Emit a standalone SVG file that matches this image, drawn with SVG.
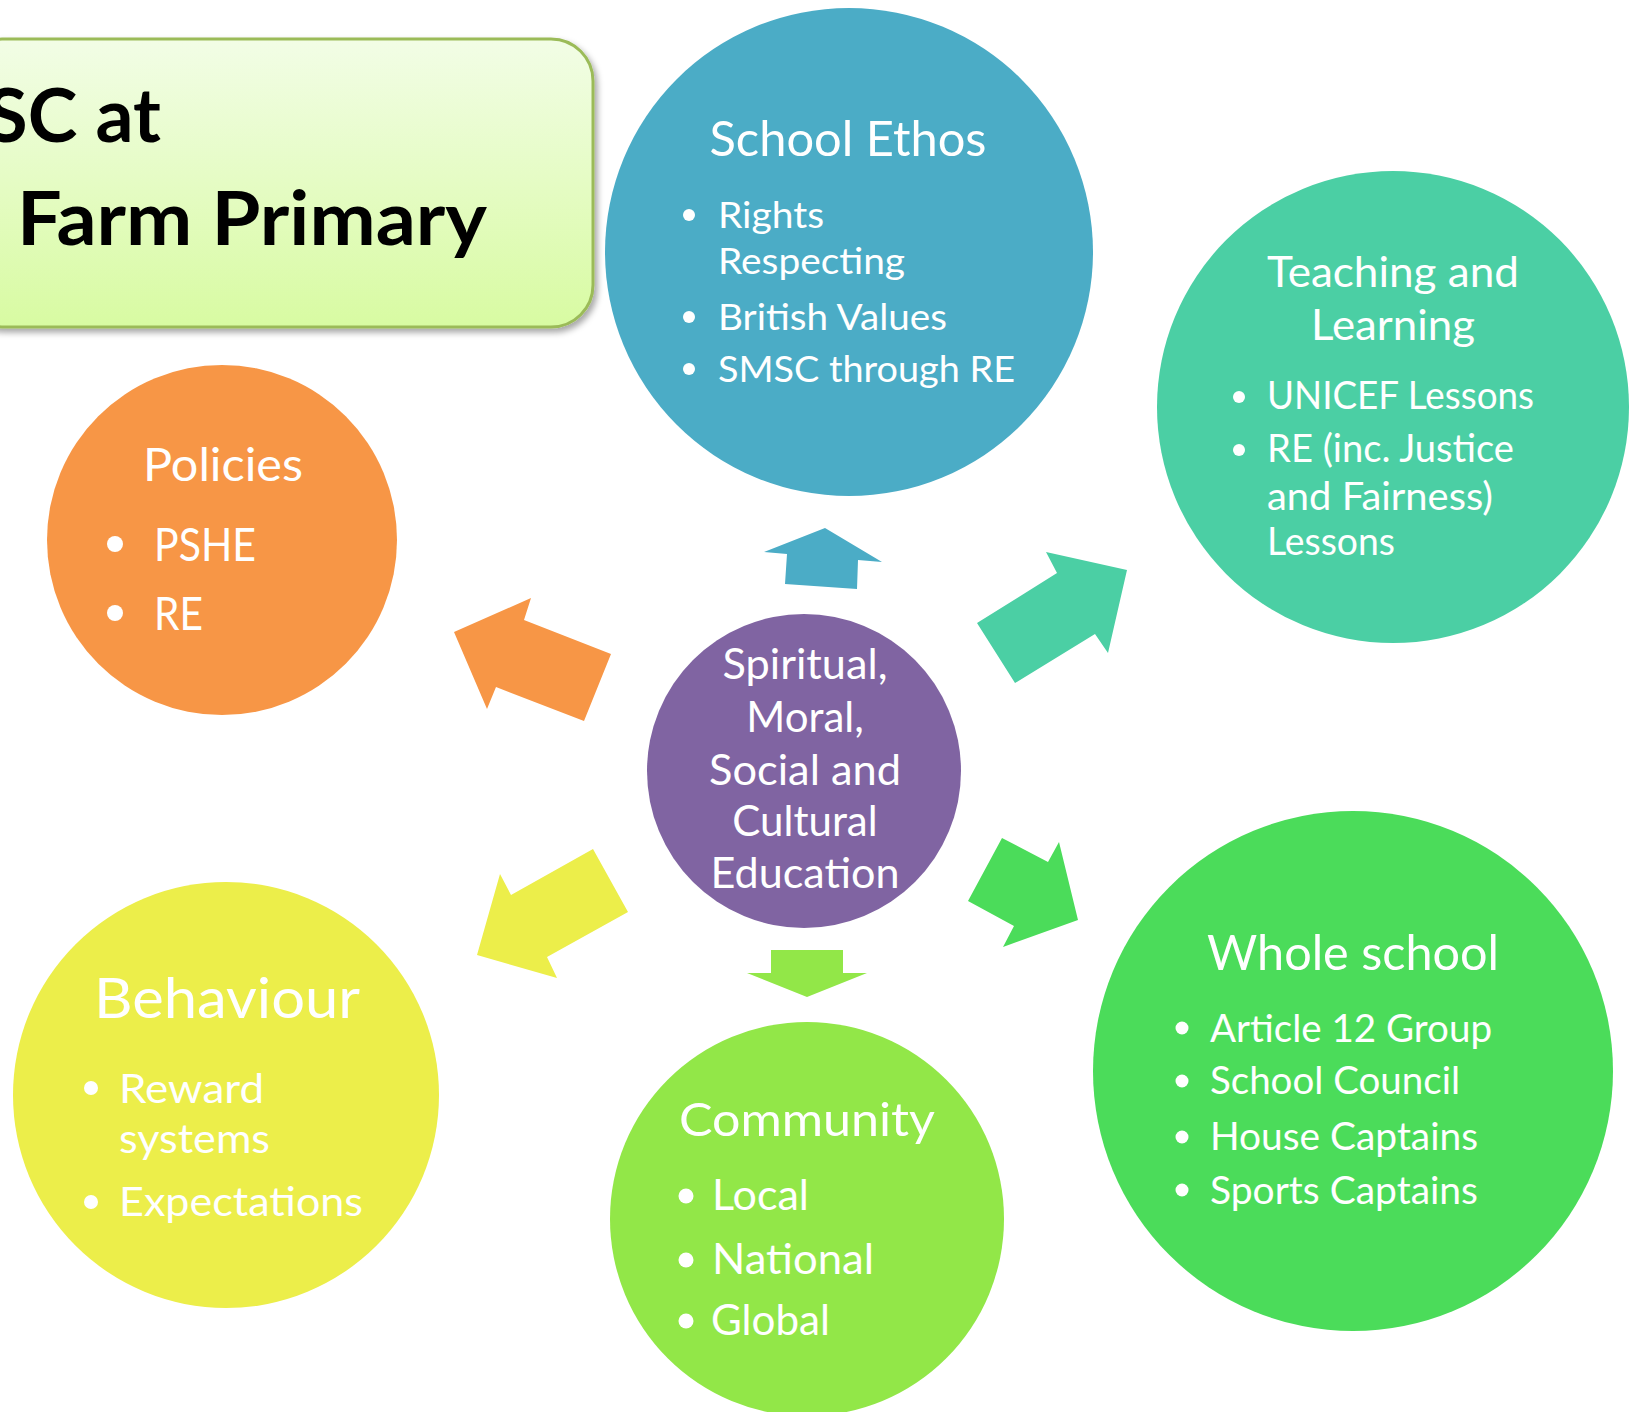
<svg xmlns="http://www.w3.org/2000/svg" width="1637" height="1412" viewBox="0 0 1637 1412">
<defs>
<style>
.t{font-family:Lato,"Open Sans","Liberation Sans",sans-serif;fill:#ffffff}
.c{text-anchor:middle}
.h{font-family:Lato,"Open Sans","Liberation Sans",sans-serif;font-weight:bold;fill:#000000}
.dot{fill:#ffffff}
</style>
<linearGradient id="tg" x1="0" y1="0" x2="0" y2="1">
<stop offset="0" stop-color="#f2fde6"/>
<stop offset="1" stop-color="#d8fba2"/>
</linearGradient>
<filter id="sh" x="-10%" y="-10%" width="120%" height="130%">
<feDropShadow dx="3" dy="4" stdDeviation="3" flood-color="#000000" flood-opacity="0.35"/>
</filter>
</defs>
<rect width="1637" height="1412" fill="#ffffff"/>

<g id="title">
<rect x="-40" y="39" width="633" height="288" rx="42" ry="42" fill="url(#tg)" stroke="#9bbb59" stroke-width="3" filter="url(#sh)"/>
<text class="h" x="161" y="142" font-size="75" text-anchor="end">SC at</text>
<text class="h" x="17" y="245" font-size="75" textLength="470" lengthAdjust="spacingAndGlyphs">Farm Primary</text>
</g>

<g id="connectors">
<polygon points="825,528 764,552 787,554 785,584 857,589 858,560 882,562" fill="#4bacc6"/>
<polygon points="1127,570 1046,552 1057,573 977,623 1015,683 1095,634 1108,653" fill="#4bcfa4"/>
<polygon points="454,632 531,598 524,620 611,654 584,721 496,687 487,709" fill="#f79646"/>
<polygon points="593,849 628,912 547,957 557,978 477,955 500,874 511,895" fill="#ecee4a"/>
<polygon points="1002,838 1048,862 1059,842 1078,920 1003,947 1014,926 968,901" fill="#4bdc5a"/>
<polygon points="771,950 843,950 843,973 867,973 807,997 747,973 771,973" fill="#92e748"/>
</g>

<g id="node-school-ethos">
<circle cx="849" cy="252" r="244" fill="#4bacc6"/>
<text class="t c" x="848" y="156" font-size="49" textLength="277" lengthAdjust="spacingAndGlyphs">School Ethos</text>
<circle class="dot" cx="689" cy="215" r="6"/>
<text class="t" x="718" y="228" font-size="37" textLength="106" lengthAdjust="spacingAndGlyphs">Rights</text>
<text class="t" x="718" y="274" font-size="37" textLength="187" lengthAdjust="spacingAndGlyphs">Respecting</text>
<circle class="dot" cx="689" cy="317" r="6"/>
<text class="t" x="718" y="330" font-size="37" textLength="229" lengthAdjust="spacingAndGlyphs">British Values</text>
<circle class="dot" cx="689" cy="369" r="6"/>
<text class="t" x="718" y="382" font-size="37" textLength="297" lengthAdjust="spacingAndGlyphs">SMSC through RE</text>
</g>

<g id="node-teaching">
<circle cx="1393" cy="407" r="236" fill="#4bcfa4"/>
<text class="t c" x="1393" y="287" font-size="42" textLength="252" lengthAdjust="spacingAndGlyphs">Teaching and</text>
<text class="t c" x="1393" y="340" font-size="42" textLength="164" lengthAdjust="spacingAndGlyphs">Learning</text>
<circle class="dot" cx="1239" cy="397" r="6"/>
<text class="t" x="1267" y="409" font-size="38" textLength="267" lengthAdjust="spacingAndGlyphs">UNICEF Lessons</text>
<circle class="dot" cx="1239" cy="450" r="6"/>
<text class="t" x="1267" y="462" font-size="38" textLength="247" lengthAdjust="spacingAndGlyphs">RE (inc. Justice</text>
<text class="t" x="1267" y="510" font-size="38" textLength="226" lengthAdjust="spacingAndGlyphs">and Fairness)</text>
<text class="t" x="1267" y="555" font-size="38" textLength="128" lengthAdjust="spacingAndGlyphs">Lessons</text>
</g>

<g id="node-policies">
<circle cx="222" cy="540" r="175" fill="#f79646"/>
<text class="t c" x="223" y="481" font-size="47" textLength="160" lengthAdjust="spacingAndGlyphs">Policies</text>
<circle class="dot" cx="115" cy="544" r="8"/>
<text class="t" x="154" y="561" font-size="46" textLength="102" lengthAdjust="spacingAndGlyphs">PSHE</text>
<circle class="dot" cx="115" cy="613" r="8"/>
<text class="t" x="154" y="630" font-size="46" textLength="49" lengthAdjust="spacingAndGlyphs">RE</text>
</g>

<g id="node-center">
<circle cx="804" cy="771" r="157" fill="#8064a2"/>
<text class="t c" x="805" y="679" font-size="42" textLength="165" lengthAdjust="spacingAndGlyphs">Spiritual,</text>
<text class="t c" x="805" y="732" font-size="42">Moral,</text>
<text class="t c" x="805" y="785" font-size="42" textLength="192" lengthAdjust="spacingAndGlyphs">Social and</text>
<text class="t c" x="805" y="836" font-size="42">Cultural</text>
<text class="t c" x="805" y="888" font-size="42" textLength="189" lengthAdjust="spacingAndGlyphs">Education</text>
</g>

<g id="node-behaviour">
<circle cx="226" cy="1095" r="213" fill="#ecee4a"/>
<text class="t c" x="227" y="1018" font-size="56" textLength="266" lengthAdjust="spacingAndGlyphs">Behaviour</text>
<circle class="dot" cx="91" cy="1088" r="7"/>
<text class="t" x="119" y="1103" font-size="41" textLength="145" lengthAdjust="spacingAndGlyphs">Reward</text>
<text class="t" x="119" y="1153" font-size="41" textLength="151" lengthAdjust="spacingAndGlyphs">systems</text>
<circle class="dot" cx="91" cy="1202" r="7"/>
<text class="t" x="119" y="1216" font-size="41" textLength="244" lengthAdjust="spacingAndGlyphs">Expectations</text>
</g>

<g id="node-community">
<circle cx="807" cy="1219" r="197" fill="#92e748"/>
<text class="t c" x="807" y="1136" font-size="47" textLength="256" lengthAdjust="spacingAndGlyphs">Community</text>
<circle class="dot" cx="686" cy="1196" r="7.5"/>
<text class="t" x="712" y="1210" font-size="43" textLength="97" lengthAdjust="spacingAndGlyphs">Local</text>
<circle class="dot" cx="686" cy="1260" r="7.5"/>
<text class="t" x="712" y="1274" font-size="43" textLength="162" lengthAdjust="spacingAndGlyphs">National</text>
<circle class="dot" cx="686" cy="1321" r="7.5"/>
<text class="t" x="711" y="1335" font-size="43" textLength="119" lengthAdjust="spacingAndGlyphs">Global</text>
</g>

<g id="node-whole-school">
<circle cx="1353" cy="1071" r="260" fill="#4bdc5a"/>
<text class="t c" x="1353" y="970" font-size="49" textLength="292" lengthAdjust="spacingAndGlyphs">Whole school</text>
<circle class="dot" cx="1182" cy="1028" r="6.5"/>
<text class="t" x="1210" y="1042" font-size="38.5" textLength="282" lengthAdjust="spacingAndGlyphs">Article 12 Group</text>
<circle class="dot" cx="1182" cy="1081" r="6.5"/>
<text class="t" x="1210" y="1094" font-size="38.5" textLength="250" lengthAdjust="spacingAndGlyphs">School Council</text>
<circle class="dot" cx="1182" cy="1137" r="6.5"/>
<text class="t" x="1210" y="1150" font-size="38.5" textLength="268" lengthAdjust="spacingAndGlyphs">House Captains</text>
<circle class="dot" cx="1182" cy="1190" r="6.5"/>
<text class="t" x="1210" y="1204" font-size="38.5" textLength="268" lengthAdjust="spacingAndGlyphs">Sports Captains</text>
</g>
</svg>
